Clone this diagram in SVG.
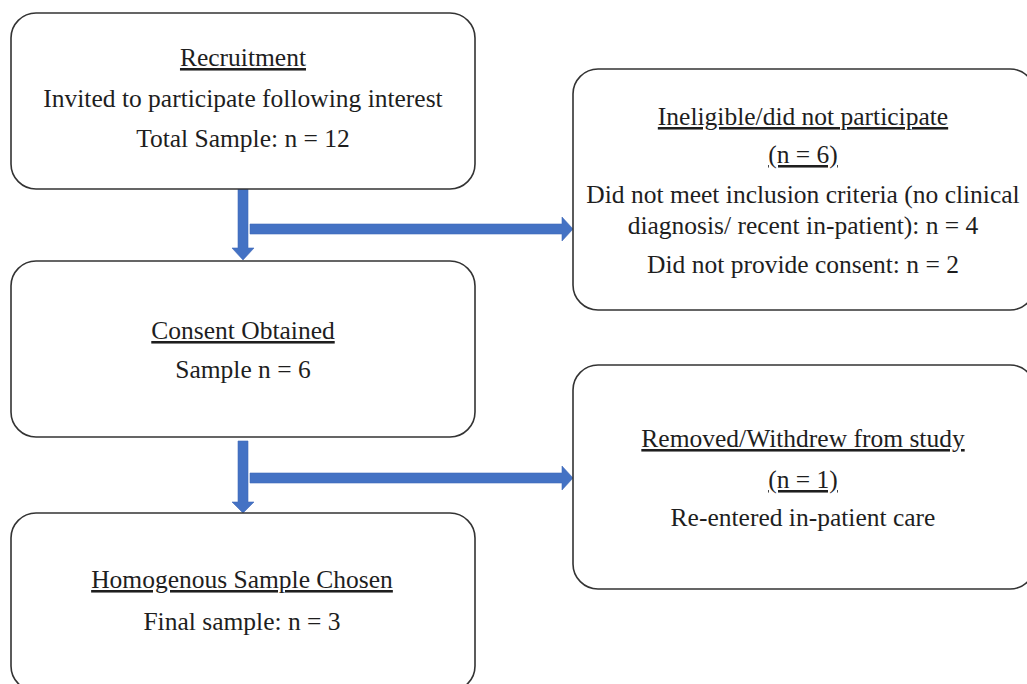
<svg xmlns="http://www.w3.org/2000/svg" width="1027" height="684" viewBox="0 0 1027 684">
<style>
.box{fill:#ffffff;stroke:#333333;stroke-width:1.6}
.t{font-family:"Liberation Serif","Times New Roman",serif;font-size:25.5px;fill:#1e1e1e;text-anchor:middle}
.u{text-decoration:underline;text-decoration-thickness:2px}
.arrow{fill:#4472C4;stroke:#3f68b8;stroke-width:0.6}
</style>
<rect width="1027" height="684" fill="#ffffff"/>
<g id="connectors">
<path class="arrow" d="M238,189 H248 V248 H254 L243,260 L232,248 H238 Z"/>
<path class="arrow" d="M250,224 H562 V217 L573,229 L562,241 V234 H250 Z"/>
<path class="arrow" d="M238,441 H248 V502 H254 L243,513 L232,502 H238 Z"/>
<path class="arrow" d="M250,473 H562 V466 L573,478 L562,490 V483 H250 Z"/>
</g>
<g id="recruitment">
<rect class="box" x="11" y="13" width="464" height="176" rx="25"/>
<text class="t u" x="243" y="66">Recruitment</text>
<text class="t" x="243" y="107">Invited to participate following interest</text>
<text class="t" x="243" y="147">Total Sample: n = 12</text>
</g>
<g id="consent">
<rect class="box" x="11" y="261" width="464" height="176" rx="25"/>
<text class="t u" x="243" y="339">Consent Obtained</text>
<text class="t" x="243" y="378">Sample n = 6</text>
</g>
<g id="homogenous">
<rect class="box" x="11" y="513" width="464" height="178" rx="25"/>
<text class="t u" x="242" y="588">Homogenous Sample Chosen</text>
<text class="t" x="242" y="630">Final sample: n = 3</text>
</g>
<g id="ineligible">
<rect class="box" x="573" y="69" width="462" height="241" rx="25"/>
<text class="t u" x="803" y="125">Ineligible/did not participate</text>
<text class="t u" x="803" y="163">(n = 6)</text>
<text class="t" x="803" y="203">Did not meet inclusion criteria (no clinical</text>
<text class="t" x="803" y="234">diagnosis/ recent in-patient): n = 4</text>
<text class="t" x="803" y="273">Did not provide consent: n = 2</text>
</g>
<g id="removed">
<rect class="box" x="573" y="365" width="462" height="224" rx="25"/>
<text class="t u" x="803" y="447">Removed/Withdrew from study</text>
<text class="t u" x="803" y="488">(n = 1)</text>
<text class="t" x="803" y="526">Re-entered in-patient care</text>
</g>
</svg>
